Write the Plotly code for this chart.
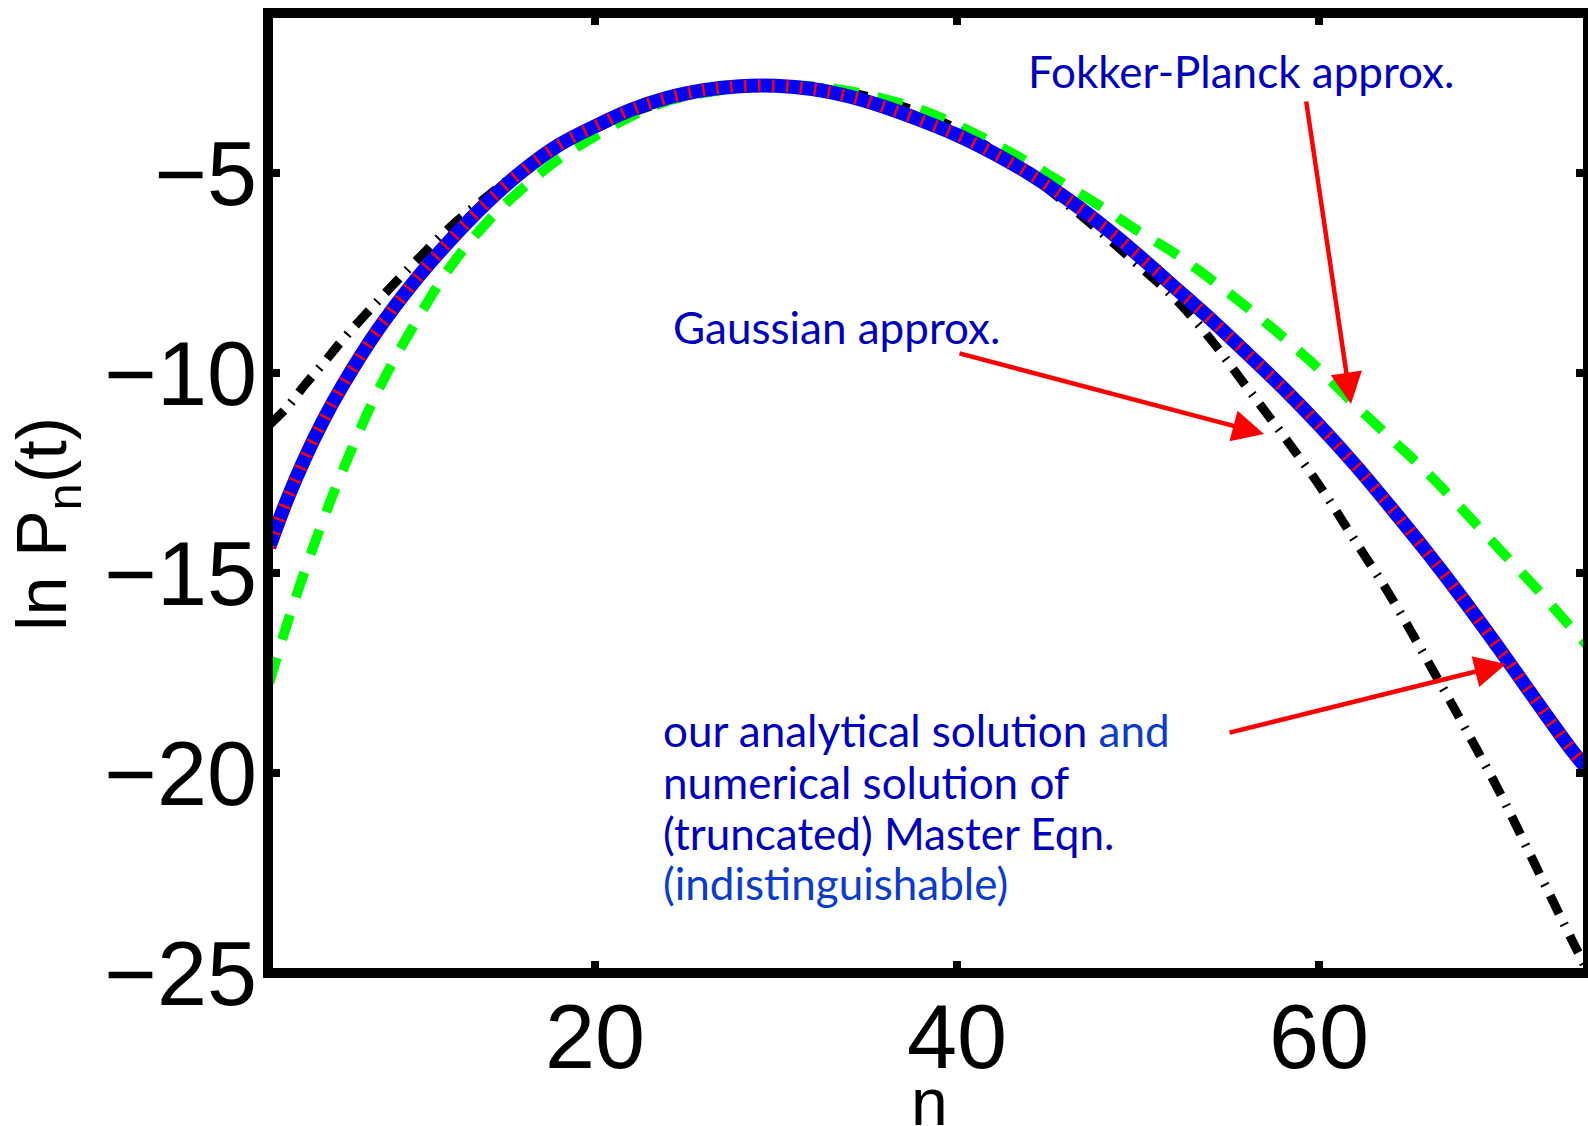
import plotly.graph_objects as go

# ---------------- data ----------------
n_vals = [2, 3, 4, 5, 6, 8, 10, 12, 14, 16, 18, 20, 22, 24, 26, 28, 30, 32, 34, 36,
          38, 40, 42, 44, 46, 48, 50, 52, 54, 56, 58, 60, 62, 64, 66, 68, 70, 72, 74, 75]

# our analytical solution (blue, thick solid)
ln_p_analytic = [-14.35, -13.15, -12.1, -11.17, -10.35, -8.92, -7.72, -6.68, -5.75, -4.95,
                 -4.3, -3.83, -3.42, -3.12, -2.93, -2.83, -2.82, -2.9, -3.08, -3.35,
                 -3.68, -4.05, -4.5, -5.02, -5.62, -6.3, -7.05, -7.85, -8.65, -9.5,
                 -10.37, -11.3, -12.3, -13.38, -14.5, -15.68, -16.92, -18.2, -19.45, -20.0]

# numerical solution of the truncated master equation (red dotted, indistinguishable)
ln_p_numerical = [-14.35, -13.15, -12.1, -11.17, -10.35, -8.92, -7.72, -6.68, -5.75, -4.95,
                  -4.3, -3.83, -3.42, -3.12, -2.93, -2.83, -2.82, -2.9, -3.08, -3.35,
                  -3.68, -4.05, -4.5, -5.02, -5.62, -6.3, -7.05, -7.85, -8.65, -9.5,
                  -10.37, -11.3, -12.3, -13.38, -14.5, -15.68, -16.92, -18.2, -19.45, -20.0]

# Fokker-Planck approximation (green dashed)
ln_p_fokker_planck = [-17.75, -16.25, -14.9, -13.65, -12.5, -10.45, -8.8, -7.35, -6.25, -5.38,
                      -4.65, -4.08, -3.58, -3.2, -3.0, -2.87, -2.8, -2.83, -2.95, -3.15,
                      -3.42, -3.8, -4.25, -4.75, -5.3, -5.85, -6.45, -7.0, -7.65, -8.35,
                      -9.1, -9.9, -10.8, -11.65, -12.5, -13.45, -14.42, -15.38, -16.4, -16.9]

# Gaussian approximation (black dash-dot)
ln_p_gaussian = [-11.3, -10.85, -10.28, -9.75, -9.2, -8.2, -7.25, -6.35, -5.6, -4.9,
                 -4.35, -3.9, -3.5, -3.2, -2.98, -2.85, -2.8, -2.85, -2.98, -3.2,
                 -3.5, -3.9, -4.43, -5.05, -5.75, -6.5, -7.3, -8.12, -9.15, -10.35,
                 -11.55, -12.8, -14.2, -15.62, -17.2, -18.82, -20.5, -22.35, -24.2, -25.1]

x_ticks = [20, 40, 60]
y_ticks = [-25, -20, -15, -10, -5]
x_range = [1.93, 74.86]
y_range = [-25, -1]

# ---------------- layout geometry ----------------
W_IMG, H_IMG = 1588, 1126
L, R, T, B = 268, 0, 13, 153
PW = W_IMG - L - R
PH = H_IMG - T - B


def xp(xpix):
    return (xpix - L) / PW


def yp(ypix):
    return (H_IMG - B - ypix) / PH


TICK_FONT = dict(family="Liberation Sans, Arial, sans-serif", size=90, color="black")
NOTE_FONT = "Lato, Noto Sans, sans-serif"
DARK_BLUE = "#0000C0"
LIGHT_BLUE = "#0A3CD2"

fig = go.Figure()
fig.add_trace(go.Scatter(x=n_vals, y=ln_p_gaussian, mode="lines",
                         line=dict(color="black", width=9, dash="20px,11px,2px,11px", shape="spline"),
                         showlegend=False, hoverinfo="skip"))
fig.add_trace(go.Scatter(x=n_vals, y=ln_p_fokker_planck, mode="lines",
                         line=dict(color="#00FF00", width=10, dash="26px,19px", shape="spline"),
                         showlegend=False, hoverinfo="skip"))
fig.add_trace(go.Scatter(x=n_vals, y=ln_p_analytic, mode="lines",
                         line=dict(color="#0000FF", width=14, shape="spline"),
                         showlegend=False, hoverinfo="skip"))
fig.add_trace(go.Scatter(x=n_vals, y=ln_p_numerical, mode="lines",
                         line=dict(color="#FF0000", width=12, dash="2.5px,11.5px", shape="spline"),
                         showlegend=False, hoverinfo="skip"))

axis_common = dict(showgrid=False, zeroline=False, showline=False, ticks="inside",
                   ticklen=12, tickwidth=8, tickcolor="black", mirror="ticks",
                   tickfont=TICK_FONT)

fig.update_layout(
    width=W_IMG, height=H_IMG,
    margin=dict(l=L, r=R, t=T, b=B, pad=0, autoexpand=False),
    paper_bgcolor="white", plot_bgcolor="white",
    xaxis=dict(range=x_range, tickvals=x_ticks, ticklabelstandoff=4, **axis_common),
    yaxis=dict(range=y_range, tickvals=y_ticks, ticklabelstandoff=10, **axis_common),
    shapes=[dict(type="rect", xref="paper", yref="paper", x0=0, x1=1, y0=0, y1=1,
                 line=dict(color="black", width=10), layer="above")],
)

annotations = []
# axis titles
annotations.append(dict(text="ln P<sub>n</sub>(t)", xref="paper", yref="paper",
                        x=xp(47), y=yp(524), xanchor="center", yanchor="middle",
                        textangle=-90, showarrow=False,
                        font=dict(family="Liberation Sans, Arial, sans-serif", size=70, color="black")))
annotations.append(dict(text="n", xref="paper", yref="paper",
                        x=xp(929), y=yp(1102), xanchor="center", yanchor="middle",
                        showarrow=False,
                        font=dict(family="Liberation Sans, Arial, sans-serif", size=66, color="black")))

# notes
def note(text, xpix, ypix, color=DARK_BLUE):
    return dict(text=text, xref="paper", yref="paper", x=xp(xpix), y=yp(ypix),
                xanchor="left", yanchor="middle", showarrow=False,
                font=dict(family=NOTE_FONT, size=44, color=color))

annotations.append(note("Fokker-Planck approx.", 1026, 71))
annotations.append(note("Gaussian approx.", 671, 327))
annotations.append(note("our analytical solution <span style='color:%s'>and</span>" % LIGHT_BLUE, 661, 730))
annotations.append(note("numerical solution of", 661, 782))
annotations.append(note("(truncated) Master Eqn.", 661, 833))
annotations.append(note("(indistinguishable)", 661, 883, LIGHT_BLUE))

# red arrows (tail pixel, tip pixel)
arrows = [((1306, 100), (1351, 404)),
          ((958, 353), (1264, 434)),
          ((1228, 733), (1506, 664))]
for (tx, ty), (hx, hy) in arrows:
    annotations.append(dict(text="", xref="paper", yref="paper", x=xp(hx), y=yp(hy),
                            ax=tx - hx, ay=ty - hy, axref="pixel", ayref="pixel",
                            showarrow=True, arrowhead=2, arrowsize=1.4, arrowwidth=4.5,
                            arrowcolor="#FF0000", standoff=0, startstandoff=0,
                            font=dict(size=1)))

fig.update_layout(annotations=annotations)
fig.write_html("out.html",
               config={"displayModeBar": False, "staticPlot": True},
               post_script="document.body.style.margin='0px';document.body.style.overflow='hidden';")
